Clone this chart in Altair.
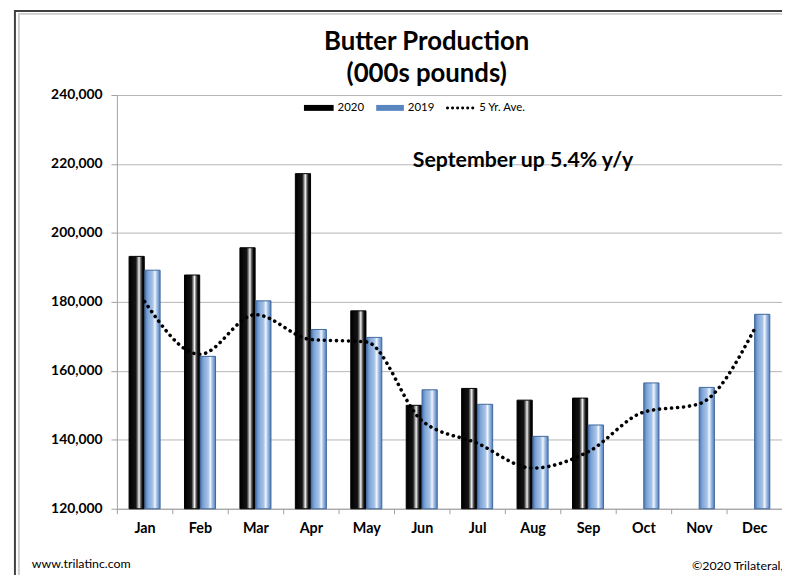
import altair as alt
import pandas as pd

months = ["Jan", "Feb", "Mar", "Apr", "May", "Jun", "Jul", "Aug", "Sep", "Oct", "Nov", "Dec"]
prod_2020 = [193200, 187800, 195700, 217200, 177400, 150000, 154900, 151500, 152100]
prod_2019 = [189200, 164200, 180300, 172000, 169700, 154500, 150300, 141000, 144300, 156500, 155200, 176400]
avg_5yr = [180100, 164800, 176300, 169100, 168400, 145600, 139000, 131800, 136500, 148000, 150400, 172000]
y_ticks = [120000, 140000, 160000, 180000, 200000, 220000, 240000]

FONT = "Lato"

rows = []
for m, v in zip(months, prod_2020):
    rows.append({"month": m, "series": "2020", "value": v})
for m, v in zip(months, prod_2019):
    rows.append({"month": m, "series": "2019", "value": v})
bars_df = pd.DataFrame(rows)
avg_df = pd.DataFrame({"month": months, "value": avg_5yr})

x_enc = alt.X(
    "month:N",
    sort=months,
    scale=alt.Scale(domain=months, paddingInner=0.44, paddingOuter=0.22),
    axis=alt.Axis(
        title=None, labelAngle=0, labelFont=FONT, labelFontSize=14.5, labelFontWeight="bold",
        labelColor="#000", domainColor="#a0a0a0", tickColor="#a0a0a0", tickSize=5,
        tickOffset=-28, labelOffset=28, labelPadding=8,
    ),
)
y_axis = alt.Axis(
    title=None, values=y_ticks, labelExpr="format(datum.value, ',')",
    labelFont=FONT, labelFontSize=14,
    labelFontWeight="bold", labelColor="#000", domainColor="#a0a0a0",
    tickColor="#a0a0a0", tickSize=6, labelPadding=9, gridColor="#b4b4b4",
    gridWidth=1,
)
y_scale = alt.Scale(domain=[120000, 240000], nice=False, zero=False)
y_enc = alt.Y("value:Q", scale=y_scale, axis=y_axis)
xoff = alt.XOffset("series:N", scale=alt.Scale(domain=["2020", "2019"], paddingInner=0.04))

black_grad = alt.Gradient(
    gradient="linear", x1=0, x2=1, y1=0, y2=0,
    stops=[
        alt.GradientStop(color="#000000", offset=0),
        alt.GradientStop(color="#141414", offset=0.45),
        alt.GradientStop(color="#8c8c8c", offset=0.57),
        alt.GradientStop(color="#f2f2f2", offset=0.66),
        alt.GradientStop(color="#6a6a6a", offset=0.76),
        alt.GradientStop(color="#0a0a0a", offset=0.88),
        alt.GradientStop(color="#000000", offset=1),
    ],
)
blue_grad = alt.Gradient(
    gradient="linear", x1=0, x2=1, y1=0, y2=0,
    stops=[
        alt.GradientStop(color="#4a78b8", offset=0),
        alt.GradientStop(color="#7fa5d6", offset=0.2),
        alt.GradientStop(color="#a8c4e8", offset=0.52),
        alt.GradientStop(color="#f0f6fd", offset=0.66),
        alt.GradientStop(color="#9dbbe2", offset=0.8),
        alt.GradientStop(color="#4f7fbf", offset=1),
    ],
)

bars2020 = alt.Chart(bars_df).transform_filter(alt.datum.series == "2020").mark_bar(
    color=black_grad, stroke="#000", strokeWidth=1
).encode(x=x_enc, y=y_enc, y2=alt.datum(120000), xOffset=xoff)

bars2019 = alt.Chart(bars_df).transform_filter(alt.datum.series == "2019").mark_bar(
    color=blue_grad, stroke="#41679c", strokeWidth=1
).encode(x=x_enc, y=y_enc, y2=alt.datum(120000), xOffset=xoff)

line = alt.Chart(avg_df).mark_line(
    color="#000", strokeWidth=3.6, strokeDash=[0.1, 6], strokeCap="round", interpolate="monotone"
).encode(x=x_enc, y=y_enc)


def blank():
    return alt.Chart(alt.Data(values=[{}]))


def txt(s, x, y, size, bold=False, align="left", color="#000"):
    return blank().mark_text(
        text=s, font=FONT, fontSize=size, fontWeight="bold" if bold else "normal",
        align=align, baseline="middle", color=color,
    ).encode(x=alt.value(x), y=alt.value(y))


frame_outer = blank().mark_rect(fill="transparent", stroke="#404040", strokeWidth=2).encode(
    x=alt.value(-103), x2=alt.value(720), y=alt.value(-85), y2=alt.value(600)
)
frame_inner = blank().mark_rect(fill="transparent", stroke="#cccccc", strokeWidth=2).encode(
    x=alt.value(-99), x2=alt.value(720), y=alt.value(-82), y2=alt.value(600)
)

leg_black = blank().mark_rect(color="#000").encode(
    x=alt.value(189), x2=alt.value(219), y=alt.value(10), y2=alt.value(16)
)
leg_blue = blank().mark_rect(color="#5a86c0").encode(
    x=alt.value(262), x2=alt.value(290), y=alt.value(10), y2=alt.value(16)
)
leg_line = blank().mark_rule(color="#000", strokeWidth=3, strokeDash=[0.1, 5], strokeCap="round").encode(
    x=alt.value(334), x2=alt.value(362), y=alt.value(13)
)

chart = alt.layer(
    frame_outer,
    frame_inner,
    bars2020,
    bars2019,
    line,
    txt("Butter Production", 313, -54, 26, bold=True, align="center"),
    txt("(000s pounds)", 313, -21, 26, bold=True, align="center"),
    leg_black,
    txt("2020", 223, 13, 11.5),
    leg_blue,
    txt("2019", 294, 13, 11.5),
    leg_line,
    txt("5 Yr. Ave.", 366, 13, 11.5),
    txt("September up 5.4% y/y", 299, 67, 21.5, bold=True),
    txt("www.trilatinc.com", -86, 474, 12.5),
    txt("\u00a92020 Trilateral, Inc.", 581, 476, 12.5),
).properties(
    width=672,
    height=418,
    autosize=alt.AutoSizeParams(type="none"),
    padding={"left": 110, "top": 85, "right": 0, "bottom": 64},
    background="white",
).configure_view(stroke=None)

chart.save("out.html", embed_options={"renderer": "svg", "actions": False})
